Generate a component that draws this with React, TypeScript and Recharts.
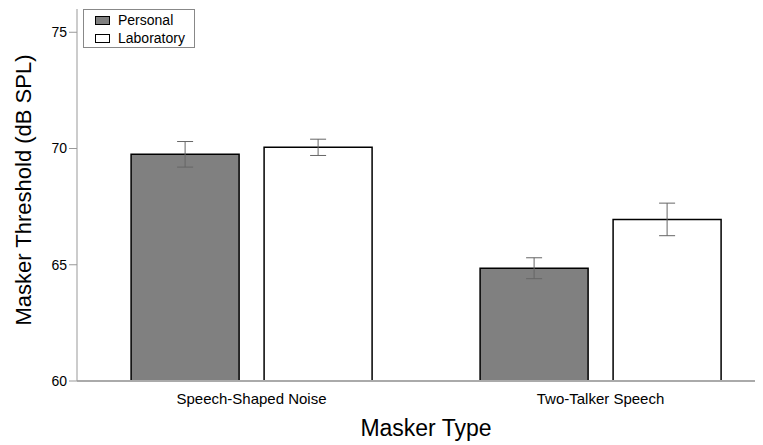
import React from 'react';
import { BarChart, Bar, XAxis, YAxis, ErrorBar, Legend, Label } from 'recharts';

const categories = ['Speech-Shaped Noise', 'Two-Talker Speech'];
const personal = [69.75, 64.85];
const personalErr = [0.55, 0.45];
const laboratory = [70.05, 66.95];
const laboratoryErr = [0.35, 0.7];
const yTicks = [60, 65, 70, 75];

const data = categories.map((c, i) => ({
  name: c,
  personal: personal[i],
  personalErr: personalErr[i],
  laboratory: laboratory[i],
  laboratoryErr: laboratoryErr[i],
}));

const FONT = '"Liberation Sans", Arial, sans-serif';

const legendItems = [
  { label: 'Personal', fill: '#808080' },
  { label: 'Laboratory', fill: '#ffffff' },
];

const LegendBox = () => (
  <div
    style={{
      width: 110,
      height: 37,
      border: '1px solid #888',
      background: '#fff',
      fontFamily: FONT,
      fontSize: 14,
      lineHeight: '18px',
      color: '#000',
      boxSizing: 'content-box',
    }}
  >
    {legendItems.map((it, i) => (
      <div key={i} style={{ display: 'flex', alignItems: 'center', height: 18, marginTop: i === 0 ? 1 : 0 }}>
        <div
          style={{
            width: 13,
            height: 7,
            border: '1px solid #000',
            background: it.fill,
            marginLeft: 11,
            marginRight: 8,
          }}
        />
        <span>{it.label}</span>
      </div>
    ))}
  </div>
);

export default function App() {
  return (
    <div style={{ marginLeft: -8, marginTop: -8, width: 763, height: 445, overflow: 'hidden', background: '#fff', position: 'relative' }}>
      <BarChart
        width={800}
        height={445}
        data={data}
        margin={{ top: 9, right: 25, bottom: 34, left: 0 }}
        barCategoryGap="15.5%"
        barGap={25}
      >
        <XAxis
          dataKey="name"
          height={30}
          axisLine={{ stroke: '#aaa', strokeWidth: 2 }}
          tickLine={false}
          tick={{ fontSize: 15, fill: '#000', fontFamily: FONT }}
          tickMargin={6}
        >
          <Label
            content={() => (
              <text x={426} y={436} textAnchor="middle" fontSize={23} fontFamily={FONT} fill="#000">
                Masker Type
              </text>
            )}
          />
        </XAxis>
        <YAxis
          width={77}
          domain={[60, 76]}
          ticks={yTicks}
          allowDataOverflow
          axisLine={{ stroke: '#999', strokeWidth: 1 }}
          tickLine={{ stroke: '#999' }}
          tickSize={8}
          tick={{ fontSize: 14, fill: '#000', fontFamily: FONT }}
        >
          <Label
            content={() => (
              <text
                x={31}
                y={190}
                transform="rotate(-90 31 190)"
                textAnchor="middle"
                fontSize={22}
                fontFamily={FONT}
                fill="#000"
              >
                Masker Threshold (dB SPL)
              </text>
            )}
          />
        </YAxis>
        <Legend
          content={() => <LegendBox />}
          wrapperStyle={{ position: 'absolute', left: 83, top: 9, width: 0, height: 0, overflow: 'visible' }}
        />
        <Bar dataKey="personal" name="Personal" fill="#808080" stroke="#000" strokeWidth={1.5} isAnimationActive={false}>
          <ErrorBar dataKey="personalErr" width={8} stroke="#666" strokeWidth={1} direction="y" />
        </Bar>
        <Bar dataKey="laboratory" name="Laboratory" fill="#ffffff" stroke="#000" strokeWidth={1.5} isAnimationActive={false}>
          <ErrorBar dataKey="laboratoryErr" width={8} stroke="#666" strokeWidth={1} direction="y" />
        </Bar>
      </BarChart>
    </div>
  );
}
